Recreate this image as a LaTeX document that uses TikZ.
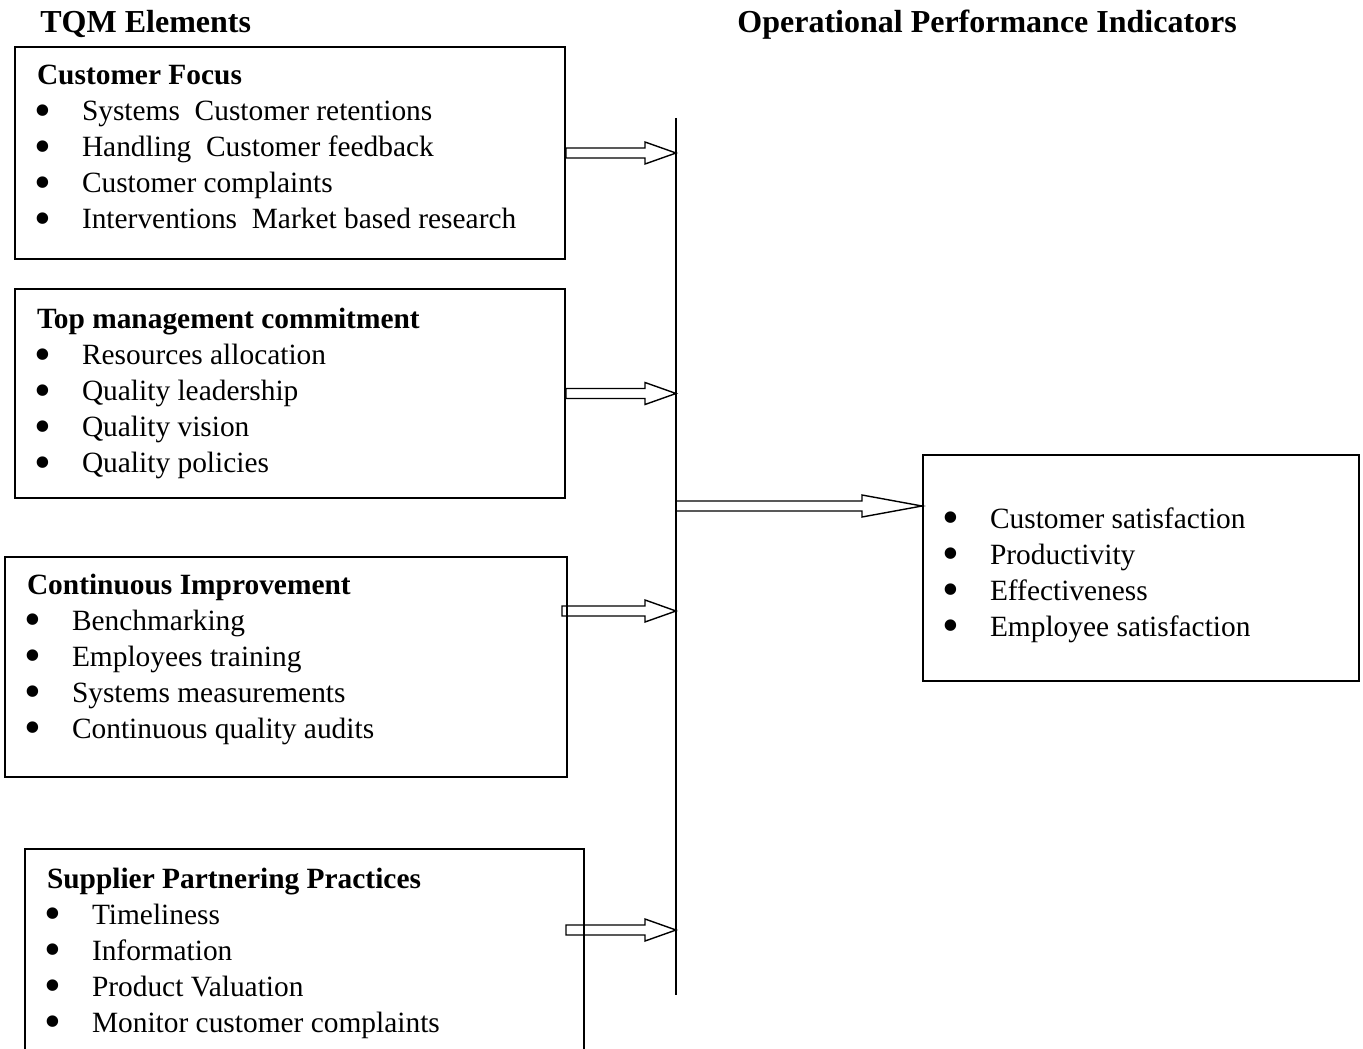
\documentclass[tikz,border=0pt]{standalone}
\usepackage{fontspec}
\setmainfont{Liberation Serif}
\usetikzlibrary{calc}

% one bullet line of a box
\newcommand{\bul}{\raisebox{-0.42ex}{\fontsize{24}{18}\selectfont\textbullet}}
\newcommand{\itm}[1]{\hspace*{-1.5pt}\makebox[24pt][l]{\bul}#1}
% hollow block arrow: [head length]{from}{to}
\newcommand{\hollowarrow}[3][15.5pt]{%
  \draw[hollow] let \p1=(#2), \p2=(#3) in
    (\x1,\y1+2.5pt) -- (\x2-#1,\y1+2.5pt) -- (\x2-#1,\y1+5.5pt) -- (\x2,\y1)
    -- (\x2-#1,\y1-5.5pt) -- (\x2-#1,\y1-2.5pt) -- (\x1,\y1-2.5pt) -- cycle;}

\begin{document}
\begin{tikzpicture}[x=0.5pt,y=-0.5pt,
  box/.style={draw,line width=1pt,anchor=north west,align=flush left,inner xsep=11pt,inner ysep=0pt,
    font=\fontsize{14.7}{18}\selectfont},
  head/.style={anchor=base west,inner sep=0pt,font=\fontsize{16}{18}\selectfont\bfseries},
  hollow/.style={line width=0.7pt}]
  \useasboundingbox (0,0) rectangle (1363,1048);

  \node[head] (left) at (40,33) {TQM Elements};
  \node[head] (right) at (737,33) {Operational Performance Indicators};

  \node[box,text width=253pt,minimum height=106pt] (cf) at (14,46)
    {\textbf{Customer Focus}\\
     \itm{Systems\ \ Customer retentions}\\
     \itm{Handling\ \ Customer feedback}\\
     \itm{Customer complaints}\\
     \itm{Interventions\ \ Market based research}\rule[-6.2pt]{0pt}{0pt}};
  \node[box,text width=253pt,minimum height=104.5pt] (tm) at (14,288)
    {\textbf{Top management commitment}\\
     \itm{Resources allocation}\\
     \itm{Quality leadership}\\
     \itm{Quality vision}\\
     \itm{Quality policies}};
  \node[box,text width=259pt,minimum height=110pt] (ci) at (4,556)
    {\textbf{Continuous Improvement}\\
     \itm{Benchmarking}\\
     \itm{Employees training}\\
     \itm{Systems measurements}\\
     \itm{Continuous quality audits}\rule[-11.2pt]{0pt}{0pt}};
  \node[box,text width=257.5pt,minimum height=104pt] (sp) at (24,848)
    {\textbf{Supplier Partnering Practices}\\
     \itm{Timeliness}\\
     \itm{Information}\\
     \itm{Product Valuation}\\
     \itm{Monitor customer complaints}};
  \node[box,text width=196pt,minimum height=113pt] (op) at (922,454)
    {\rule{0pt}{17.3pt}\itm{Customer satisfaction}\\
     \itm{Productivity}\\
     \itm{Effectiveness}\\
     \itm{Employee satisfaction}};

  % collecting bar
  \coordinate (bartop) at (676,118);
  \coordinate (barbot) at (676,995);
  \draw[line width=1pt] (bartop) -- (barbot);

  \coordinate (s3) at (562,611);
  \coordinate (s4) at (566,930);
  \coordinate (s5) at (676,506);

  \hollowarrow{cf.east}{cf.east -| bartop}
  \hollowarrow{tm.east}{tm.east -| bartop}
  \hollowarrow{s3}{s3 -| bartop}
  \hollowarrow{s4}{s4 -| bartop}
  \hollowarrow[30pt]{s5}{s5 -| op.west}
\end{tikzpicture}
\end{document}
